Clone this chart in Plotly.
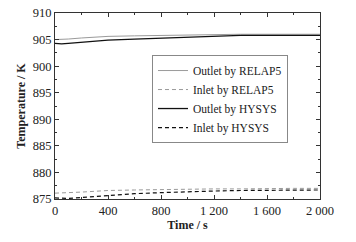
import plotly.graph_objects as go

time_s = [0, 50, 100, 200, 300, 400, 600, 800, 1000, 1200, 1400, 1600, 1800, 2000]
outlet_relap5 = [905.0, 905.0, 905.1, 905.3, 905.5, 905.6, 905.7, 905.8, 905.9, 906.0, 906.0, 906.0, 906.0, 906.0]
inlet_relap5 = [876.1, 876.1, 876.2, 876.3, 876.5, 876.6, 876.7, 876.8, 876.9, 876.9, 876.9, 877.0, 877.0, 877.0]
outlet_hysys = [904.3, 904.2, 904.3, 904.5, 904.7, 904.9, 905.1, 905.3, 905.5, 905.7, 905.8, 905.8, 905.8, 905.8]
inlet_hysys = [875.2, 875.1, 875.1, 875.3, 875.5, 875.7, 876.0, 876.2, 876.4, 876.5, 876.6, 876.6, 876.7, 876.7]

x_ticks = [0, 400, 800, 1200, 1600, 2000]
x_tick_labels = ["0", "400", "800", "1 200", "1 600", "2 000"]
y_ticks = [875, 880, 885, 890, 895, 900, 905, 910]

font = "Liberation Serif"
fig = go.Figure()
fig.add_trace(go.Scatter(x=time_s, y=outlet_relap5, mode="lines", name="Outlet by RELAP5",
                         line=dict(color="#9a9a9a", width=1)))
fig.add_trace(go.Scatter(x=time_s, y=inlet_relap5, mode="lines", name="Inlet by RELAP5",
                         line=dict(color="#9a9a9a", width=1, dash="4px,3px")))
fig.add_trace(go.Scatter(x=time_s, y=outlet_hysys, mode="lines", name="Outlet by HYSYS",
                         line=dict(color="#111111", width=1.3)))
fig.add_trace(go.Scatter(x=time_s, y=inlet_hysys, mode="lines", name="Inlet by HYSYS",
                         line=dict(color="#111111", width=1.2, dash="4px,3px")))

axis_common = dict(showgrid=False, zeroline=False, showline=True, linecolor="#333", linewidth=1,
                   mirror="ticks", ticks="inside", ticklen=4, tickcolor="#333", automargin=False,
                   tickfont=dict(family=font, size=12.5, color="#222"))
fig.update_xaxes(range=[0, 2000], tickvals=x_ticks, ticktext=x_tick_labels,
                 minor=dict(dtick=200, ticks="inside", ticklen=2, tickcolor="#333"),
                 title=dict(text="<b>Time / s</b>", font=dict(family=font, size=12, color="#222"), standoff=3),
                 **axis_common)
fig.update_yaxes(range=[875, 910], tickvals=y_ticks,
                 minor=dict(dtick=2.5, ticks="inside", ticklen=2, tickcolor="#333"),
                 title=dict(text="<b>Temperature / K</b>", font=dict(family=font, size=12, color="#222"), standoff=4),
                 **axis_common)
fig.update_layout(width=356, height=242, margin=dict(l=55, r=36, t=13, b=43),
                  paper_bgcolor="white", plot_bgcolor="white",
                  font=dict(family=font, size=12, color="#222"),
                  legend=dict(x=0.366, y=0.774, xanchor="left", yanchor="top",
                              bordercolor="#888", borderwidth=1, bgcolor="white",
                              font=dict(family=font, size=11.5, color="#222"),
                              tracegroupgap=0, itemwidth=30))
fig.write_html("out.html", config={"displayModeBar": False},
               post_script="document.body.style.margin='0';document.body.style.overflow='hidden';")
